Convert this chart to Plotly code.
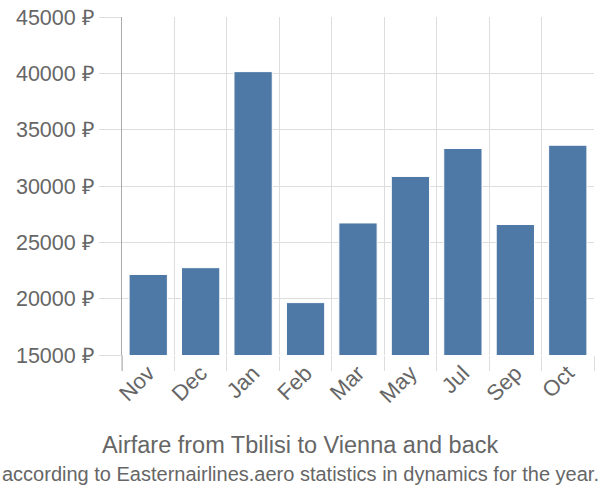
import plotly.graph_objects as go

months = ["Nov", "Dec", "Jan", "Feb", "Mar", "May", "Jul", "Sep", "Oct"]
prices = [22150, 22750, 40150, 19650, 26720, 30850, 33330, 26580, 33620]
y_ticks = [15000, 20000, 25000, 30000, 35000, 40000, 45000]
y_tick_text = [f"{v} ₽" for v in y_ticks]
title = "Airfare from Tbilisi to Vienna and back"
subtitle = "according to Easternairlines.aero statistics in dynamics for the year."

fig = go.Figure(go.Bar(
    x=months, y=prices,
    marker=dict(color="#4e79a7", line=dict(color="white", width=1)),
))

font = "Liberation Sans, Arial, sans-serif"
plot_left, plot_right, plot_top, plot_h = 122, 6, 15, 340
fig.update_layout(
    width=600, height=500,
    margin=dict(l=plot_left, r=plot_right, t=plot_top, b=500 - plot_top - plot_h),
    paper_bgcolor="white", plot_bgcolor="white",
    bargap=0.27,
    showlegend=False,
    font=dict(family=font, color="#666666"),
    xaxis=dict(
        type="category", tickson="boundaries",
        showgrid=True, gridcolor="#dddddd", gridwidth=1,
        ticks="outside", ticklen=15, tickcolor="#dddddd",
        tickangle=-45, tickfont=dict(size=22, color="#666666"),
        showline=False,
    ),
    yaxis=dict(
        range=[15000, 45000], tickvals=y_ticks, ticktext=y_tick_text,
        showgrid=True, gridcolor="#dddddd", gridwidth=1,
        ticks="outside", ticklen=22, tickcolor="#dddddd",
        tickfont=dict(size=21.5, color="#666666"),
        showline=True, linecolor="#aaaaaa", linewidth=1,
        zeroline=False,
    ),
)

center_x = (300 - plot_left) / (600 - plot_left - plot_right)
def py(pix):
    return (plot_top + plot_h - pix) / plot_h

fig.add_annotation(text=title, x=center_x, xref="paper", xanchor="center",
                   y=py(446), yref="paper", yanchor="middle", showarrow=False,
                   font=dict(size=23.5, color="#666666", family=font))
fig.add_annotation(text=subtitle, x=center_x, xref="paper", xanchor="center",
                   y=py(475), yref="paper", yanchor="middle", showarrow=False,
                   font=dict(size=20, color="#666666", family=font))
# y-axis line extending below the plot area, as in the reference
fig.add_shape(type="line", xref="paper", yref="paper",
              x0=0, x1=0, y0=0, y1=py(371),
              line=dict(color="#aaaaaa", width=1))

fig.write_html("out.html")
